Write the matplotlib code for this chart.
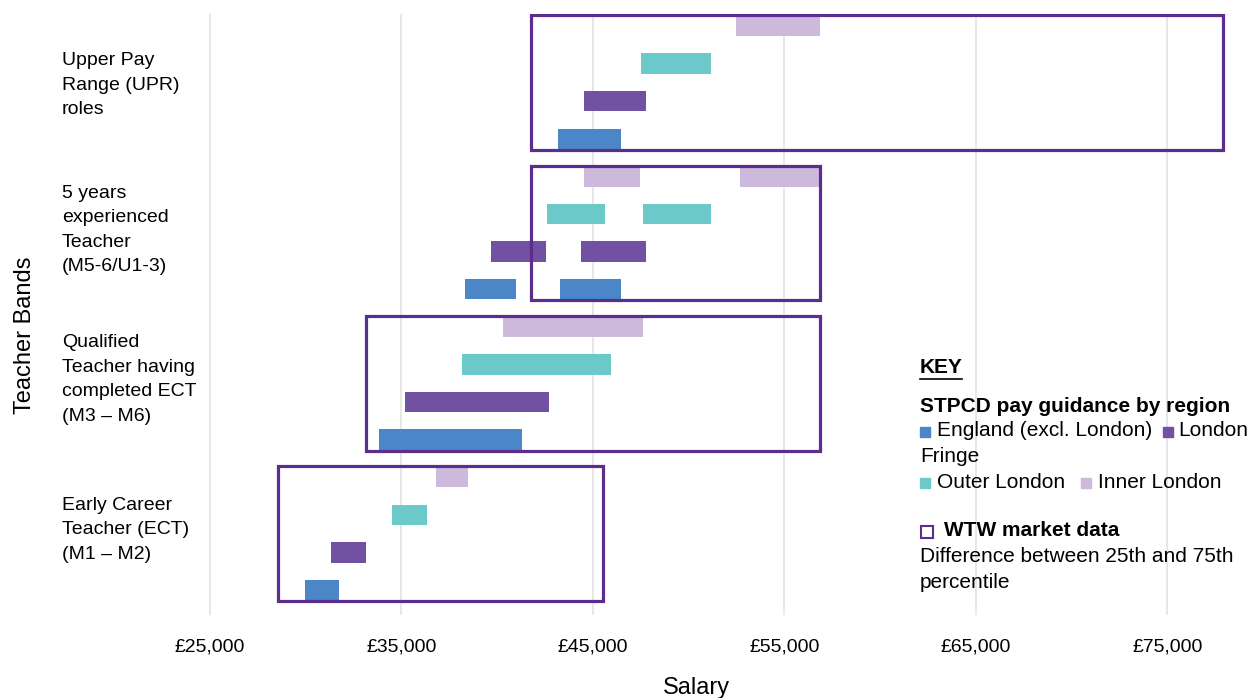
import matplotlib
matplotlib.use("Agg")
import matplotlib.pyplot as plt
from matplotlib.patches import Rectangle
import matplotlib.transforms as mtransforms

plt.rcParams['font.family'] = ['Liberation Sans', 'DejaVu Sans']

# bands from bottom to top
bands = ["Early Career\nTeacher (ECT)\n(M1 \u2013 M2)",
         "Qualified\nTeacher having\ncompleted ECT\n(M3 \u2013 M6)",
         "5 years\nexperienced\nTeacher\n(M5-6/U1-3)",
         "Upper Pay\nRange (UPR)\nroles"]

regions = ["England (excl. London)", "London Fringe", "Outer London", "Inner London"]

# STPCD pay ranges (start, end) per band, per region
england = [[(29960, 31730)], [(33820, 41290)], [(38310, 40970), (43270, 46460)], [(43170, 46460)]]
fringe = [[(31320, 33140)], [(35180, 42700)], [(39670, 42540), (44370, 47760)], [(44520, 47760)]]
outer = [[(34500, 36330)], [(38150, 45930)], [(42590, 45620), (47600, 51150)], [(47500, 51150)]]
inner = [[(36800, 38470)], [(40300, 47600)], [(44520, 47450), (52670, 56840)], [(52460, 56850)]]

# WTW market data, 25th to 75th percentile
wtw_low = [28550, 33150, 41770, 41770]
wtw_high = [45510, 56850, 56850, 77900]

x_ticks = [25000, 35000, 45000, 55000, 65000, 75000]

COLORS = ['#4a86c8', '#7151a1', '#6cc9c9', '#cdb9dc']
BOX_COLOR = '#5a2d8f'
GRID_COLOR = '#e3e3e3'
BAR_H = 0.545
LABEL_Y = [1.6, 1.6, 1.58, 1.42]

W, H = 1255, 698
fig = plt.figure(figsize=(W / 100, H / 100), dpi=100)
ax = fig.add_axes([190 / W, 1 - 615 / H, 1050 / W, (615 - 14) / H])

series = [england, fringe, outer, inner]
for r, ranges in enumerate(series):
    for b, segs in enumerate(ranges):
        for lo, hi in segs:
            ax.barh(4 * b + r, hi - lo, left=lo, height=BAR_H, color=COLORS[r], zorder=2)

for b in range(len(bands)):
    ax.add_patch(Rectangle((wtw_low[b], 4 * b - 0.29), wtw_high[b] - wtw_low[b], 3.58,
                           fill=False, edgecolor=BOX_COLOR, lw=2.3, zorder=3))

ax.set_xlim(23956, 78787)
ax.set_ylim(-0.665, 15.32)
ax.set_xticks(x_ticks)
ax.set_xticklabels([f"\u00a3{v:,}" for v in x_ticks], fontsize=14)
ax.tick_params(axis='x', length=0, pad=17)
ax.set_yticks([])
ax.grid(axis='x', color=GRID_COLOR, lw=1.2, zorder=0)
for s in ax.spines.values():
    s.set_visible(False)

trans = mtransforms.blended_transform_factory(fig.transFigure, ax.transData)
for b, label in enumerate(bands):
    ax.text(62 / W, 4 * b + LABEL_Y[b], label, transform=trans, fontsize=14,
            va='center', ha='left', linespacing=1.58)

fig.text(696 / W, 1 - 688 / H, "Salary", fontsize=17, ha='center', va='center')
fig.text(25 / W, 1 - 335 / H, "Teacher Bands", fontsize=17, rotation=90, ha='center', va='center')


def ft(x, y, s, **kw):
    fig.text(x / W, 1 - y / H, s, va='center', ha='left', fontsize=15, **kw)


def sq(x, y, size, **kw):
    fig.patches.append(Rectangle((x / W, 1 - (y + size / 2) / H), size / W, size / H,
                                 transform=fig.transFigure, figure=fig, **kw))


# key
fig.text(920 / W, 1 - 368 / H, "KEY", va='center', ha='left', fontsize=15, fontweight='bold')
fig.add_artist(plt.Line2D([920 / W, 962 / W], [1 - 379 / H, 1 - 379 / H], color='black', lw=1.2))
ft(920, 407, "STPCD pay guidance by region", fontweight='bold')
sq(920, 432, 10, color=COLORS[0])
ft(937, 431, "England (excl. London)")
sq(1163, 432, 10, color=COLORS[1])
ft(1178, 431, "London")
ft(920, 457, "Fringe")
sq(920, 483, 10, color=COLORS[2])
ft(937, 482, "Outer London")
sq(1081, 483, 10, color=COLORS[3])
ft(1098, 482, "Inner London")
sq(921, 532, 12, fill=False, edgecolor=BOX_COLOR, lw=1.5)
ft(944, 531, "WTW market data", fontweight='bold')
ft(920, 557, "Difference between 25th and 75th")
ft(920, 582, "percentile")

fig.savefig("out.png", dpi=100)
